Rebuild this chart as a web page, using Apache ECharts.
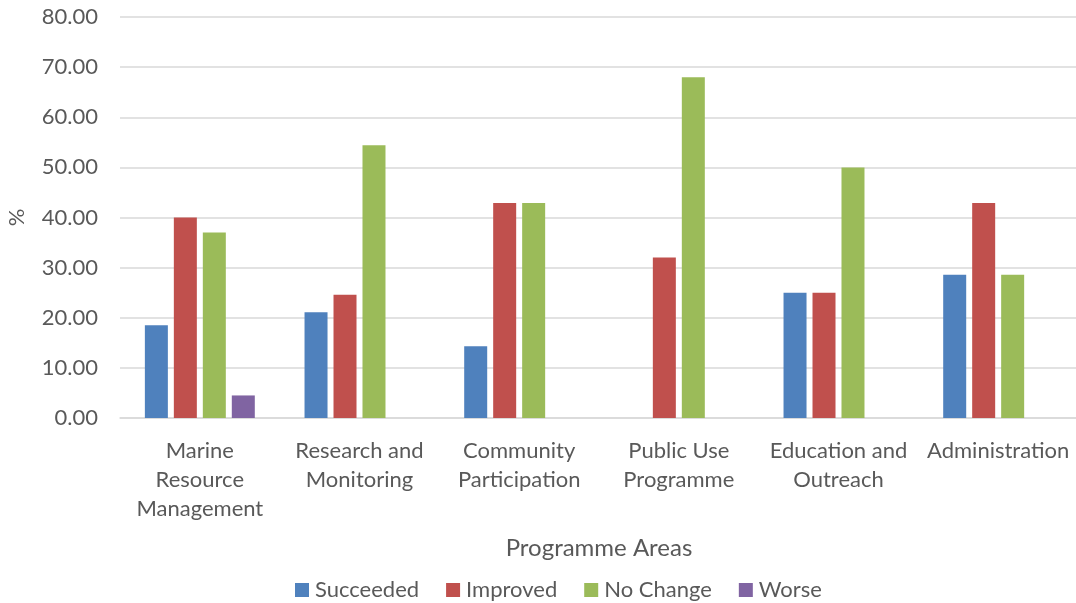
<!DOCTYPE html>
<html>
<head>
<meta charset="utf-8">
<script src="https://cdn.jsdelivr.net/npm/echarts@6/dist/echarts.min.js"></script>
<style>html,body{margin:0;padding:0;background:#fff;}#c{width:1076px;height:603px;}</style>
</head>
<body>
<div id="c"></div>
<script>
var categories = ["Marine\nResource\nManagement", "Research and\nMonitoring", "Community\nParticipation", "Public Use\nProgramme", "Education and\nOutreach", "Administration"];
var seriesNames = ["Succeeded", "Improved", "No Change", "Worse"];
var succeeded = [18.5, 21.1, 14.3, 0, 25.0, 28.6];
var improved = [40.0, 24.6, 42.9, 32.0, 25.0, 42.9];
var noChange = [37.0, 54.4, 42.9, 68.0, 50.0, 28.6];
var worse = [4.5, 0, 0, 0, 0, 0];
var yTicks = {min: 0, max: 80, interval: 10};
var colors = ["#4F81BD", "#C0504D", "#9BBB59", "#8064A2"];
var font = "Lato, 'Open Sans', sans-serif";
var txt = "#595959";

var chart = echarts.init(document.getElementById('c'), null, {renderer: 'canvas'});
var data = [succeeded, improved, noChange, worse];
chart.setOption({
  animation: false,
  color: colors,
  textStyle: {fontFamily: font, color: txt},
  grid: {left: 120, right: -2, top: 17, bottom: 185, containLabel: false, outerBoundsMode: 'none'},
  legend: {
    bottom: -3, left: 290,
    itemWidth: 14, itemHeight: 14, itemGap: 27,
    icon: 'rect',
    textStyle: {fontSize: 22, color: txt, fontFamily: font, padding: [0, 0, 0, 1]},
    data: seriesNames
  },
  xAxis: {
    type: 'category', data: categories,
    name: 'Programme Areas', nameLocation: 'middle', nameGap: 118,
    nameTextStyle: {fontSize: 24, color: txt, fontFamily: font},
    axisLine: {lineStyle: {color: '#d9d9d9', width: 1.5}},
    axisTick: {show: false},
    axisLabel: {fontSize: 22, color: txt, lineHeight: 29, margin: 18, interval: 0, fontFamily: font}
  },
  yAxis: {
    type: 'value', min: yTicks.min, max: yTicks.max, interval: yTicks.interval,
    name: '%', nameLocation: 'middle', nameGap: 92, nameRotate: 90,
    nameTextStyle: {fontSize: 22, color: txt, fontFamily: font},
    axisLine: {show: false}, axisTick: {show: false},
    splitLine: {lineStyle: {color: '#d9d9d9', width: 1.5}},
    axisLabel: {fontSize: 22, color: txt, margin: 22, fontFamily: font,
      formatter: function (v) { return v.toFixed(2); }}
  },
  series: seriesNames.map(function (n, i) {
    return {
      name: n, type: 'bar', data: data[i],
      barWidth: 23, barGap: '26%'
    };
  })
});
</script>
</body>
</html>
